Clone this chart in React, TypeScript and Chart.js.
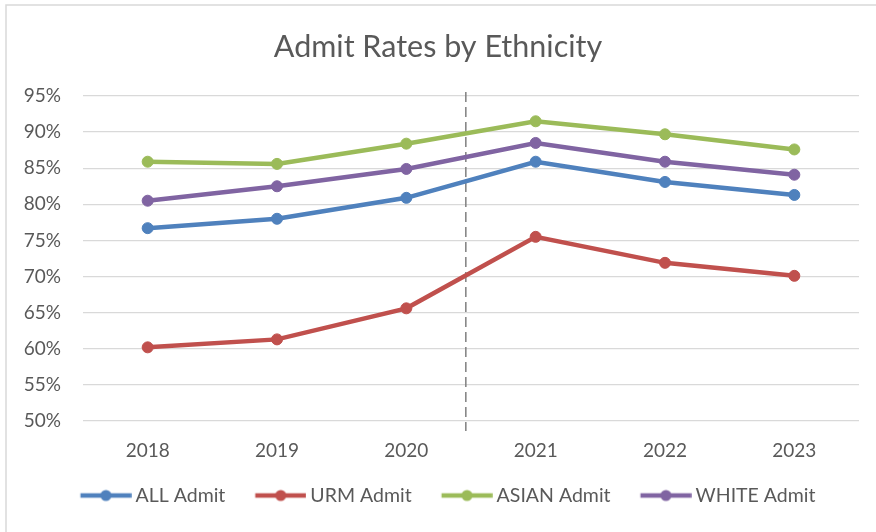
import React, { useEffect, useRef } from "react";
import { Chart, registerables } from "chart.js";

Chart.register(...registerables);

const years = ["2018", "2019", "2020", "2021", "2022", "2023"];
const allAdmit = [76.7, 78.0, 80.9, 85.9, 83.1, 81.3];
const urmAdmit = [60.2, 61.3, 65.6, 75.5, 71.9, 70.1];
const asianAdmit = [85.9, 85.6, 88.4, 91.5, 89.7, 87.6];
const whiteAdmit = [80.5, 82.5, 84.9, 88.5, 85.9, 84.1];
const seriesNames = ["ALL Admit", "URM Admit", "ASIAN Admit", "WHITE Admit"];
const seriesColors = ["#4F81BD", "#C0504D", "#9BBB59", "#8064A2"];
const yMin = 50;
const yMax = 95;
const yStep = 5;
// divider between 2020 and 2021 (category index units)
const dividerAt = 2.46;
const dividerTop = 95.55;
const dividerBottom = 48.6;

const FONT = "Lato, 'Open Sans', sans-serif";
const TEXT = "#595959";

// legend marker geometry
const LEG_FONT = 19.5;
const MARK_W = 51; // visible line+dot marker width
const MARK_GAP = 4; // gap marker -> text
const LEG_BLANK = 20; // blank space before marker (item spacing)
const BOX_W = MARK_W - (LEG_FONT / 2 - MARK_GAP) + LEG_BLANK;

function makeMarker(color: string): HTMLCanvasElement {
  const ext = LEG_FONT / 2 - MARK_GAP; // how far marker reaches right of box
  const W = BOX_W + 2 * ext;
  const c = document.createElement("canvas");
  c.width = Math.round(W);
  c.height = 14;
  const off = LEG_BLANK + ext;
  const ctx = c.getContext("2d")!;
  ctx.strokeStyle = color;
  ctx.lineWidth = 4.5;
  ctx.beginPath();
  ctx.moveTo(off, 7);
  ctx.lineTo(off + MARK_W, 7);
  ctx.stroke();
  ctx.fillStyle = color;
  ctx.beginPath();
  ctx.arc(off + MARK_W / 2, 7, 5.5, 0, Math.PI * 2);
  ctx.fill();
  return c;
}

const frame = {
  id: "frame",
  beforeDraw(chart: any) {
    const { ctx, width, height } = chart;
    ctx.save();
    ctx.fillStyle = "#ffffff";
    ctx.fillRect(0, 0, width, height);
    ctx.strokeStyle = "#D9D9D9";
    ctx.lineWidth = 1.5;
    ctx.strokeRect(6, 5, width + 20, height + 20);
    ctx.restore();
  },
};

const divider = {
  id: "divider",
  beforeDatasetsDraw(chart: any) {
    const base = Math.floor(dividerAt);
    const x0 = chart.scales.x.getPixelForValue(base);
    const x1 = chart.scales.x.getPixelForValue(base + 1);
    const x = x0 + (dividerAt - base) * (x1 - x0);
    const y = chart.scales.y;
    const ctx = chart.ctx;
    ctx.save();
    ctx.strokeStyle = "#7F7F7F";
    ctx.lineWidth = 1.5;
    ctx.setLineDash([10, 5]);
    ctx.beginPath();
    ctx.moveTo(x, y.getPixelForValue(dividerTop));
    ctx.lineTo(x, y.getPixelForValue(dividerBottom));
    ctx.stroke();
    ctx.restore();
  },
};

export default function App() {
  const ref = useRef<HTMLCanvasElement>(null);
  useEffect(() => {
    const values = [allAdmit, urmAdmit, asianAdmit, whiteAdmit];
    const markers = seriesColors.map(makeMarker);
    const chart = new Chart(ref.current!, {
      type: "line",
      data: {
        labels: years,
        datasets: values.map((v, i) => ({
          label: seriesNames[i],
          data: v,
          borderColor: seriesColors[i],
          backgroundColor: seriesColors[i],
          borderWidth: 4.5,
          pointRadius: 5.5,
          pointBorderWidth: 1,
          pointBackgroundColor: seriesColors[i],
          pointBorderColor: seriesColors[i],
          tension: 0,
          yAxisID: "y",
        })),
      },
      options: {
        responsive: false,
        animation: false,
        devicePixelRatio: 1,
        layout: { padding: { left: 0, right: 0, top: 0, bottom: 16.75 } },
        plugins: {
          title: {
            display: true,
            text: "Admit Rates by Ethnicity",
            color: TEXT,
            font: { family: FONT, size: 30.5, weight: "normal" },
            padding: { top: 28.7, bottom: 30.7 },
          },
          legend: {
            position: "bottom",
            labels: {
              usePointStyle: true,
              pointStyleWidth: BOX_W,
              padding: 10,
              color: TEXT,
              font: { family: FONT, size: LEG_FONT },
              generateLabels(ch: any) {
                const items = Chart.defaults.plugins.legend.labels.generateLabels(ch);
                items.forEach((it: any, i: number) => {
                  it.pointStyle = markers[i];
                  it.fontColor = TEXT;
                });
                return items;
              },
            },
          },
          tooltip: { enabled: false },
        },
        scales: {
          x: {
            offset: true,
            grid: { display: false },
            border: { display: false },
            ticks: { color: TEXT, font: { family: FONT, size: 19 }, padding: 10 },
            afterFit(s: any) {
              s.height = 54.75;
            },
          },
          y: {
            min: yMin,
            max: yMax,
            grid: { color: "#D9D9D9", lineWidth: 1.25, drawTicks: false },
            border: { display: false },
            ticks: {
              stepSize: yStep,
              color: TEXT,
              font: { family: FONT, size: 19 },
              padding: 22,
              callback: (v: any) => v + "%",
            },
            afterFit(s: any) {
              s.width = 83;
            },
          },
          y2: {
            position: "right",
            display: true,
            grid: { display: false },
            border: { display: false },
            ticks: { display: false },
            afterFit(s: any) {
              s.width = 17;
            },
          },
        },
      },
      plugins: [frame, divider],
    });
    return () => chart.destroy();
  }, []);
  return (
    <div style={{ position: "absolute", left: 0, top: 0, width: 876, height: 532 }}>
      <canvas ref={ref} width={876} height={532} />
    </div>
  );
}
